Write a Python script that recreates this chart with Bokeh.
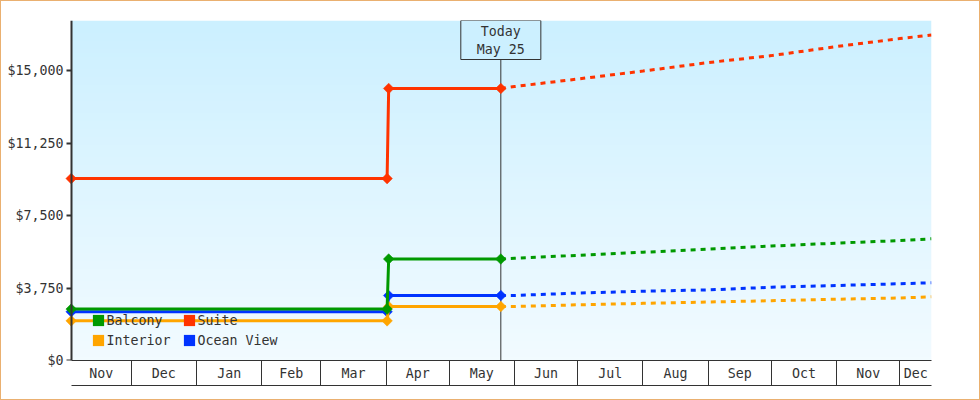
import numpy as np
import pandas as pd
from bokeh.embed import file_html
from bokeh.resources import INLINE
from bokeh.plotting import figure
from bokeh.models import (Range1d, FixedTicker, NumeralTickFormatter, LinearAxis, Legend, LegendItem,
                          Label, Span, ColumnDataSource)

# ---- data -----------------------------------------------------------------
actual_dates = ["2013-11-02T12:00", "2014-04-01T12:00", "2014-04-02T06:00", "2014-05-25T12:00"]
balcony_actual = [2660, 2660, 5250, 5250]
suite_actual = [9410, 9410, 14070, 14070]
interior_actual = [2050, 2050, 2790, 2790]
ocean_actual = [2520, 2520, 3360, 3360]

forecast_dates = ["2014-05-25T12:00", "2014-06-01", "2014-07-01", "2014-08-01", "2014-09-01",
                  "2014-10-01", "2014-11-01", "2014-12-01", "2014-12-16"]
balcony_forecast = [5250, 5290, 5440, 5600, 5755, 5920, 6070, 6205, 6295]
suite_forecast = [14070, 14170, 14560, 14970, 15410, 15770, 16240, 16650, 16840]
interior_forecast = [2790, 2795, 2880, 2955, 3025, 3093, 3170, 3233, 3295]
ocean_forecast = [3360, 3365, 3486, 3585, 3650, 3790, 3880, 3970, 4020]

series_names = ["Balcony", "Suite", "Interior", "Ocean View"]
series_colors = ["#009900", "#ff3300", "#ffa500", "#0033ff"]
y_ticks = [0, 3750, 7500, 11250, 15000]
month_edges = ["2013-12-01", "2014-01-01", "2014-02-01", "2014-03-01", "2014-04-01", "2014-05-01",
               "2014-06-01", "2014-07-01", "2014-08-01", "2014-09-01", "2014-10-01", "2014-11-01", "2014-12-01"]
month_labels = ["Nov", "Dec", "Jan", "Feb", "Mar", "Apr", "May", "Jun", "Jul", "Aug", "Sep", "Oct", "Nov", "Dec"]
today_date = "2014-05-25T12:00"
today_text = "Today\nMay 25"
axis_start = "2013-11-02T12:00"
axis_end = "2014-12-16"
gradient_top = (204, 240, 255)
gradient_bottom = (242, 251, 255)

# ---- helpers --------------------------------------------------------------
FONT = "DejaVu Sans Mono"
FS = "13.3px"
INK = "#333333"
def ms(s):
    return pd.Timestamp(s).value / 1e6

start_ms, end_ms = ms(axis_start), ms(axis_end)
FRAME_LEFT, FRAME_RIGHT, FRAME_TOP, FRAME_BOTTOM = 63, 931, 20, 360
AXIS_PX = 70.7
ppx = (end_ms - start_ms) / (FRAME_RIGHT - AXIS_PX)
x0 = start_ms - (AXIS_PX - FRAME_LEFT) * ppx
y_top = 15000 * (FRAME_BOTTOM - FRAME_TOP) / 290

p = figure(width=980, height=400, output_backend="svg", toolbar_location=None,
           x_range=Range1d(x0, end_ms), y_range=Range1d(0, y_top),
           x_axis_type=None, y_axis_type=None,
           min_border_left=FRAME_LEFT - 1, min_border_right=980 - FRAME_RIGHT + 1,
           min_border_top=FRAME_TOP - 1, min_border_bottom=400 + 1 - FRAME_BOTTOM,
           outline_line_color=None, background_fill_color=None, border_fill_color="white")
p.grid.visible = False
p.styles = {"border": "1px solid #eab070"}

# gradient background
rows = 85
t = np.linspace(0, 1, rows)
img = np.zeros((rows, 1), dtype=np.uint32)
view = img.view(dtype=np.uint8).reshape((rows, 1, 4))
for i in range(3):
    view[:, 0, i] = (gradient_bottom[i] + (gradient_top[i] - gradient_bottom[i]) * t).astype(np.uint8)
view[:, 0, 3] = 255
p.image_rgba(image=[img], x=start_ms, y=0, dw=end_ms - start_ms, dh=y_top, level="image")

# today rule
p.add_layout(Span(location=ms(today_date), dimension="height", line_color=INK, line_width=1, level="underlay"))

# series
actual = [balcony_actual, suite_actual, interior_actual, ocean_actual]
forecast = [balcony_forecast, suite_forecast, interior_forecast, ocean_forecast]
dta = [ms(d) for d in actual_dates]
dtf = [ms(d) for d in forecast_dates]
for idx in [1, 3, 2, 0]:
    c = series_colors[idx]
    src = ColumnDataSource(dict(x=dta, y=actual[idx]))
    p.line("x", "y", source=src, line_color=c, line_width=3)
    p.scatter("x", "y", source=src, marker="square", angle=np.pi / 4, size=7.5, fill_color=c, line_color=c, line_width=0.5)
    p.line(dtf, forecast[idx], line_color=c, line_width=3, line_dash=[5, 5])

nan = float("nan")
swatches = [p.quad(left=[nan], right=[nan], top=[nan], bottom=[nan], fill_color=c, line_color=None)
            for c in series_colors]

legend_order = [0, 2, 1, 3]
legend = Legend(items=[LegendItem(label=series_names[i], renderers=[swatches[i]]) for i in legend_order],
                ncols=2, location=(90.5 - FRAME_LEFT, FRAME_BOTTOM - 350),
                background_fill_color=None, border_line_color=None,
                glyph_width=14, glyph_height=14, label_standoff=2, label_width=75, label_height=20,
                spacing=0, margin=0, padding=0,
                label_text_font=FONT, label_text_font_size=FS, label_text_color=INK, level="underlay")
p.add_layout(legend, "center")

# y axis line and ticks sit on the first date, inside the (slightly wider) frame
yax = LinearAxis(ticker=FixedTicker(ticks=y_ticks), fixed_location=start_ms,
                 axis_line_color=INK, axis_line_width=2,
                 major_tick_line_color=INK, major_tick_line_width=2, major_tick_out=5, major_tick_in=0,
                 minor_tick_line_color=None, major_label_text_color=None)
p.add_layout(yax, "left")
# y labels at the frame edge
yl = LinearAxis(ticker=FixedTicker(ticks=y_ticks), formatter=NumeralTickFormatter(format="$0,0"),
                axis_line_color=None, major_tick_line_color=None, minor_tick_line_color=None,
                major_tick_out=0, major_tick_in=0, major_label_standoff=0,
                major_label_text_font=FONT, major_label_text_font_size=FS, major_label_text_color=INK)
p.add_layout(yl, "left")

# x axes: month boundaries, then month names with the closing rule
edges_ms = [ms(e) for e in month_edges]
xa = LinearAxis(ticker=FixedTicker(ticks=[], minor_ticks=edges_ms), bounds=(start_ms, end_ms),
                axis_line_color=INK, axis_line_width=1, minor_tick_line_color=INK, minor_tick_line_width=1,
                minor_tick_out=25, minor_tick_in=0, major_tick_line_color=None)
p.add_layout(xa, "below")
bounds = [start_ms] + edges_ms + [end_ms]
mids = [(a + b) / 2 for a, b in zip(bounds[:-1], bounds[1:])]
xb = LinearAxis(ticker=FixedTicker(ticks=mids), major_label_overrides=dict(zip(mids, month_labels)),
                bounds=(start_ms, end_ms), axis_line_color=INK, axis_line_width=1,
                major_tick_line_color=None, minor_tick_line_color=None, major_tick_out=0, major_tick_in=0,
                major_label_standoff=-20,
                major_label_text_font=FONT, major_label_text_font_size=FS, major_label_text_color=INK)
p.add_layout(xb, "below")

# today box
p.add_layout(Label(x=ms(today_date), y=FRAME_BOTTOM - 20, x_units="data", y_units="screen", text=today_text,
                   text_align="center", text_baseline="top", text_font=FONT, text_font_size=FS, text_color=INK,
                   text_line_height=1.2, padding=(16, 3),
                   background_fill_color="#ccf0ff", border_line_color=INK, border_line_width=1))

open("out.html", "w").write(file_html(p, INLINE))
